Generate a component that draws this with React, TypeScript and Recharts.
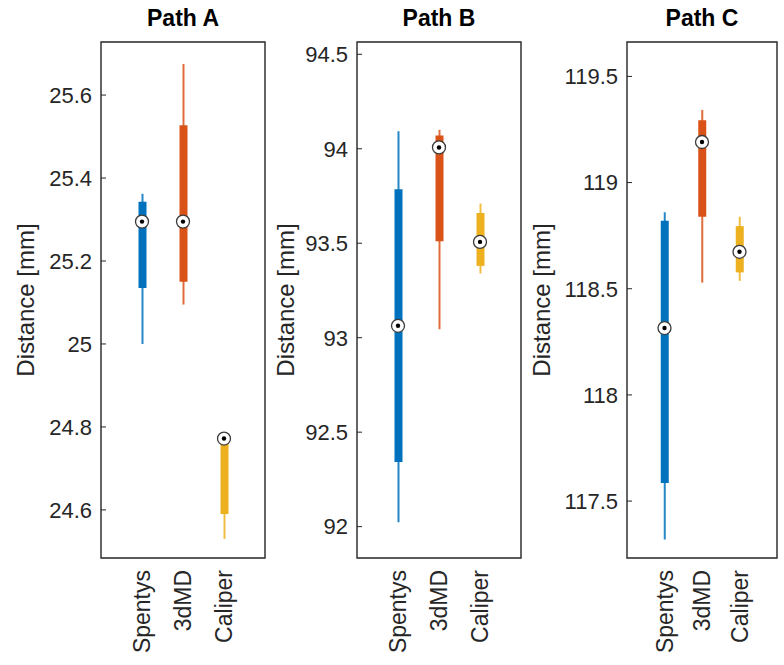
import React from 'react'
import { Bar, Cell, ComposedChart, ReferenceArea, Scatter, XAxis, YAxis } from 'recharts'

const groups = ['Spentys', '3dMD', 'Caliper']
const colors = ['#0072BD', '#D95319', '#EDB120']
const positions = [1, 2, 3]

// Path A
const aWhiskerLow = [25.0, 25.095, 24.53]
const aQ1 = [25.135, 25.15, 24.59]
const aMedian = [25.295, 25.295, 24.772]
const aQ3 = [25.343, 25.527, 24.772]
const aWhiskerHigh = [25.362, 25.675, 24.772]
const aTicks = [24.6, 24.8, 25, 25.2, 25.4, 25.6]
const aDomain = [24.484, 25.728]

// Path B
const bWhiskerLow = [92.023, 93.045, 93.34]
const bQ1 = [92.342, 93.51, 93.38]
const bMedian = [93.063, 94.007, 93.507]
const bQ3 = [93.785, 94.07, 93.66]
const bWhiskerHigh = [94.093, 94.1, 93.71]
const bTicks = [92, 92.5, 93, 93.5, 94, 94.5]
const bDomain = [91.834, 94.565]

// Path C
const cWhiskerLow = [117.319, 118.529, 118.537]
const cQ1 = [117.585, 118.839, 118.577]
const cMedian = [118.315, 119.191, 118.674]
const cQ3 = [118.82, 119.294, 118.795]
const cWhiskerHigh = [118.86, 119.342, 118.839]
const cTicks = [117.5, 118, 118.5, 119, 119.5]
const cDomain = [117.232, 119.662]

const font = '"Liberation Sans", Arial, Helvetica, sans-serif'
const axisColor = '#262626'

const GroupTick = (props: any) => {
    const { x, y, payload } = props
    const ty = y + 4
    return (
        <text
            x={x}
            y={ty}
            transform={`rotate(-90, ${x}, ${ty})`}
            textAnchor="end"
            dominantBaseline="central"
            fontSize={23}
            fontFamily={font}
            fill={axisColor}
        >
            {groups[payload.value - 1]}
        </text>
    )
}

const MedianMarker = (props: any) => {
    const { cx, cy } = props
    return (
        <g>
            <circle cx={cx} cy={cy} r={6.5} fill="#fff" stroke="#3a3a3a" strokeWidth={1.3} />
            <circle cx={cx} cy={cy} r={2.2} fill="#000" />
        </g>
    )
}

type PanelProps = {
    title: string
    left: number
    width: number
    yAxisWidth: number
    labelOffset: number
    domain: number[]
    ticks: number[]
    low: number[]
    q1: number[]
    median: number[]
    q3: number[]
    high: number[]
}

const BoxPanel = ({ title, left, width, yAxisWidth, labelOffset, domain, ticks, low, q1, median, q3, high }: PanelProps) => {
    const rows = groups.map((name, i) => ({
        pos: positions[i],
        name,
        box: [q1[i], q3[i]],
        whisker: [low[i], high[i]],
        median: median[i],
    }))
    const plotWidth = width - yAxisWidth - 5

    return (
        <div style={{ position: 'absolute', left, top: 0, width, height: 665 }}>
            <div
                style={{
                    position: 'absolute',
                    left: yAxisWidth,
                    width: plotWidth,
                    top: 3,
                    lineHeight: '30px',
                    textAlign: 'center',
                    fontFamily: font,
                    fontWeight: 'bold',
                    fontSize: 23,
                    color: '#000',
                }}
            >
                {title}
            </div>
            <ComposedChart width={width} height={665} data={rows} margin={{ top: 42, right: 4, bottom: 0, left: 0 }}>
                <XAxis
                    xAxisId="box"
                    dataKey="pos"
                    type="number"
                    domain={[0, 4]}
                    ticks={positions}
                    interval={0}
                    height={107}
                    axisLine={false}
                    tickLine={false}
                    tick={<GroupTick />}
                    allowDataOverflow
                />
                <XAxis xAxisId="whisker" dataKey="pos" type="number" domain={[0, 4]} hide allowDataOverflow />
                <YAxis
                    yAxisId="left"
                    type="number"
                    domain={domain}
                    ticks={ticks}
                    interval={0}
                    width={yAxisWidth}
                    allowDataOverflow
                    axisLine={false}
                    tickSize={-5}
                    tickMargin={14}
                    tickLine={{ stroke: axisColor }}
                    tick={{ fontSize: 22, fontFamily: font, fill: axisColor }}
                    label={{
                        value: 'Distance [mm]',
                        angle: -90,
                        position: 'insideLeft',
                        offset: labelOffset,
                        style: { textAnchor: 'middle', fontSize: 24, fontFamily: font, fill: axisColor },
                    }}
                />
                <YAxis
                    yAxisId="right"
                    orientation="right"
                    type="number"
                    domain={domain}
                    ticks={ticks}
                    interval={0}
                    width={1}
                    allowDataOverflow
                    axisLine={false}
                    tickSize={-5}
                    tick={false}
                    tickLine={{ stroke: axisColor }}
                />
                <ReferenceArea
                    xAxisId="box"
                    yAxisId="left"
                    x1={0}
                    x2={4}
                    y1={domain[0]}
                    y2={domain[1]}
                    fill="none"
                    stroke={axisColor}
                    strokeWidth={1.4}
                    ifOverflow="visible"
                />
                <Bar xAxisId="whisker" yAxisId="left" dataKey="whisker" barSize={2} isAnimationActive={false}>
                    {rows.map((r, i) => (
                        <Cell key={r.name} fill={colors[i]} fillOpacity={0.85} />
                    ))}
                </Bar>
                <Bar xAxisId="box" yAxisId="left" dataKey="box" barSize={8} isAnimationActive={false}>
                    {rows.map((r, i) => (
                        <Cell key={r.name} fill={colors[i]} />
                    ))}
                </Bar>
                <Scatter xAxisId="box" yAxisId="left" dataKey="median" shape={<MedianMarker />} isAnimationActive={false} />
            </ComposedChart>
        </div>
    )
}

export default function App() {
    return (
        <div style={{ position: 'absolute', left: 0, top: 0, width: 784, height: 665, background: '#fff' }}>
            <BoxPanel
                title="Path A"
                left={0}
                width={270}
                yAxisWidth={101}
                labelOffset={25}
                domain={aDomain}
                ticks={aTicks}
                low={aWhiskerLow}
                q1={aQ1}
                median={aMedian}
                q3={aQ3}
                high={aWhiskerHigh}
            />
            <BoxPanel
                title="Path B"
                left={260}
                width={266}
                yAxisWidth={97}
                labelOffset={25}
                domain={bDomain}
                ticks={bTicks}
                low={bWhiskerLow}
                q1={bQ1}
                median={bMedian}
                q3={bQ3}
                high={bWhiskerHigh}
            />
            <BoxPanel
                title="Path C"
                left={520}
                width={262}
                yAxisWidth={107}
                labelOffset={21}
                domain={cDomain}
                ticks={cTicks}
                low={cWhiskerLow}
                q1={cQ1}
                median={cMedian}
                q3={cQ3}
                high={cWhiskerHigh}
            />
        </div>
    )
}
